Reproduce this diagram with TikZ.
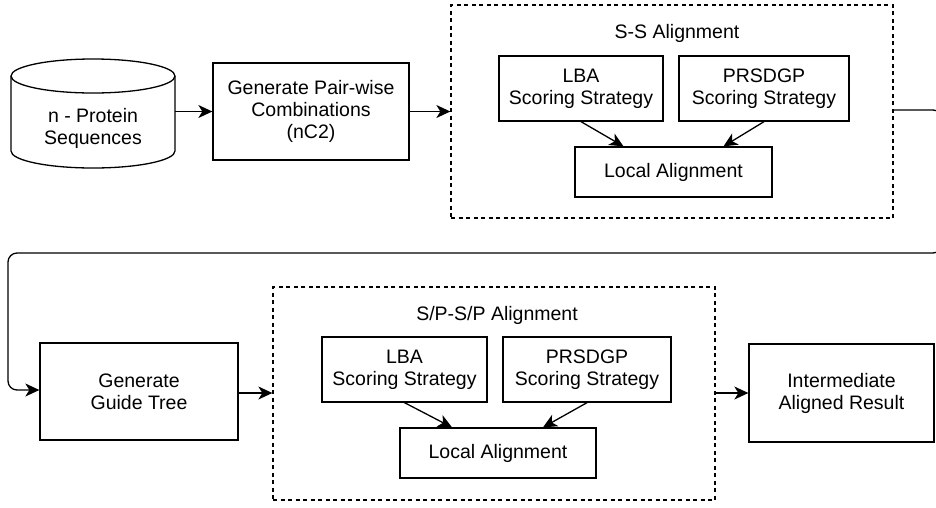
\documentclass[tikz,border=0pt]{standalone}
\usepackage{fontspec}
\setmainfont{Liberation Sans}
\usetikzlibrary{arrows.meta,calc}
\tikzset{
  lw/.style={line width=1.3pt},
  box/.style={draw, lw, align=center, inner sep=0pt, font=\fontsize{19.5}{22}\selectfont},
  grp/.style={draw, line width=1.3pt, dash pattern=on 4pt off 3.5pt, inner sep=0pt},
  lbl/.style={align=center, inner sep=0pt, font=\fontsize{19.5}{22}\selectfont},
  arr/.style={lw, -{Stealth[length=14pt,width=13pt,inset=4pt]}},
}
\begin{document}
\begin{tikzpicture}[x=1pt,y=-1pt]
\useasboundingbox (0,0) rectangle (936,507);
\clip (0,0) rectangle (936,507);
% cylinder
\draw[lw] (11,76) -- (11,151) arc[start angle=180,end angle=360,x radius=82pt,y radius=17pt] -- (175,76);
\draw[lw] (93,76) ellipse [x radius=82pt, y radius=17pt];
\node[lbl] (db) at (93,128) {n - Protein\\Sequences};
\coordinate (dbr) at (175,111.5);
% top row
\node[box, minimum width=196pt, minimum height=97pt] (gp) at (311,111.5) {Generate Pair-wise\\Combinations\\(nC2)};
\node[grp, minimum width=442pt, minimum height=213pt] (ss) at (672,111.5) {};
\node[lbl] (sst) at (677,33) {S-S Alignment};
\node[box, minimum width=164pt, minimum height=65pt] (lba1) at (581,88.5) {LBA\\Scoring Strategy};
\node[box, minimum width=170pt, minimum height=65pt] (prs1) at (764,88.5) {PRSDGP\\Scoring Strategy};
\node[box, minimum width=197pt, minimum height=50pt] (loc1) at (673.5,172) {Local Alignment};
% bottom row
\node[box, minimum width=198pt, minimum height=97pt] (gt) at (139,391.5) {Generate\\Guide Tree};
\node[grp, minimum width=442pt, minimum height=213pt] (sp) at (494,393.5) {};
\node[lbl] (spt) at (497,315) {S/P-S/P Alignment};
\node[box, minimum width=165pt, minimum height=65pt] (lba2) at (404.5,369.5) {LBA\\Scoring Strategy};
\node[box, minimum width=168pt, minimum height=65pt] (prs2) at (587,369.5) {PRSDGP\\Scoring Strategy};
\node[box, minimum width=196pt, minimum height=50pt] (loc2) at (498,453) {Local Alignment};
\node[box, minimum width=185pt, minimum height=98pt] (res) at (841.5,393) {Intermediate\\Aligned Result};
% connectors
\draw[arr] (dbr) -- (dbr -| gp.west);
\draw[arr] (gp.east) -- (gp.east -| ss.west);
\draw[arr] (lba1.south) -- ($(loc1.north)+(-50,0)$);
\draw[arr] (prs1.south) -- ($(loc1.north)+(50,0)$);
\draw[arr, rounded corners=9pt] (ss.east |- 0,110) -- (942,110) -- (942,253) -- (8,253) -- (8,390) -- (gt.west |- 0,390);
\draw[arr] (gt.east |- 0,393) -- (sp.west |- 0,393);
\draw[arr] (lba2.south) -- ($(loc2.north)+(-46,0)$);
\draw[arr] (prs2.south) -- ($(loc2.north)+(45,0)$);
\draw[arr] (sp.east |- 0,393) -- (res.west |- 0,393);
\end{tikzpicture}
\end{document}
